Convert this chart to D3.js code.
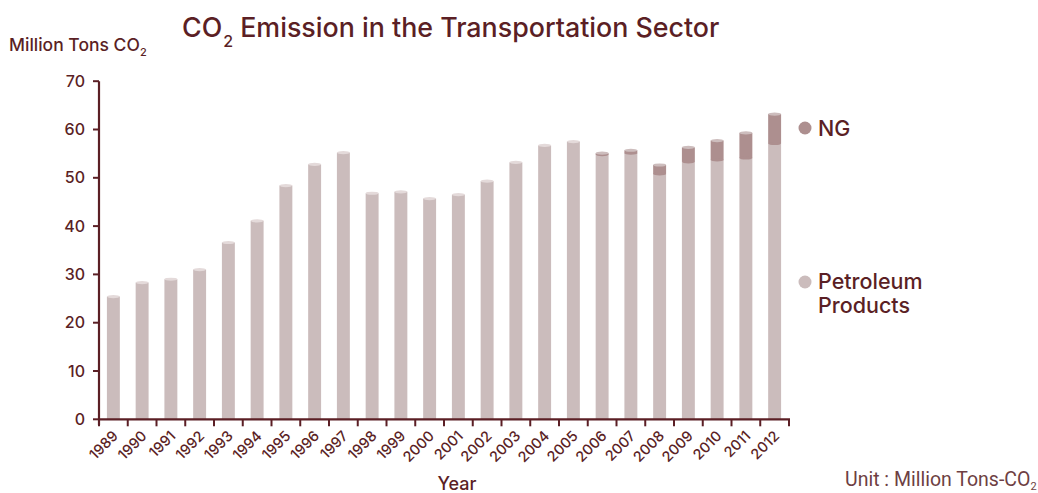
<!DOCTYPE html>
<html>
<head>
<meta charset="utf-8">
<script src="https://cdn.jsdelivr.net/npm/d3@7"></script>
<style>
  html, body { margin: 0; padding: 0; background: #fff; }
  svg { display: block; }
  text { font-family: Inter, Roboto, "Noto Sans", sans-serif; }
</style>
</head>
<body>
<svg id="chart" width="1038" height="493"></svg>
<script>
// CO2 emission in the transportation sector (million tons CO2)
const years = [1989, 1990, 1991, 1992, 1993, 1994, 1995, 1996, 1997, 1998, 1999, 2000,
               2001, 2002, 2003, 2004, 2005, 2006, 2007, 2008, 2009, 2010, 2011, 2012];
const petroleum = [25.4, 28.3, 29.0, 31.0, 36.6, 41.1, 48.4, 52.8, 55.2, 46.8, 47.1, 45.7,
                   46.5, 49.3, 53.2, 56.7, 57.5, 54.8, 55.1, 50.8, 53.3, 53.7, 54.1, 57.1];
const ng = [0, 0, 0, 0, 0, 0, 0, 0, 0, 0, 0, 0,
            0, 0, 0, 0, 0, 0.3, 0.6, 1.85, 3.0, 4.0, 5.2, 6.1];
const yTicks = [0, 10, 20, 30, 40, 50, 60, 70];
const seriesNames = ["NG", "Petroleum Products"];

const ink = "#5b1f25";
const colPetro = "#cbbcbc";
const colPetroCap = "#e4dada";
const colNG = "#ad8f8f";
const colNGCap = "#cdbdbd";

const svg = d3.select("#chart");

const x = d3.scaleBand().domain(years).range([99, 789]).paddingInner(0.55).paddingOuter(0.275);
const y = d3.scaleLinear().domain([0, 70]).range([419.3, 81.2]);
const step = x.step();
const bw = x.bandwidth();

const rows = years.map((yr, i) => ({ year: yr, p: petroleum[i], n: ng[i] }));

// bars
const g = svg.append("g");
rows.forEach(d => {
  const x0 = x(d.year);
  const cx = x0 + bw / 2;
  // petroleum segment
  g.append("rect").attr("x", x0).attr("y", y(d.p)).attr("width", bw)
    .attr("height", y(0) - y(d.p)).attr("fill", colPetro);
  if (d.n > 0) {
    const top = d.p + d.n;
    g.append("rect").attr("x", x0).attr("y", y(top)).attr("width", bw)
      .attr("height", y(d.p) - y(top)).attr("fill", colNG);
    g.append("ellipse").attr("cx", cx).attr("cy", y(d.p)).attr("rx", bw / 2).attr("ry", 1.6)
      .attr("fill", colNG);
    g.append("ellipse").attr("cx", cx).attr("cy", y(top)).attr("rx", bw / 2).attr("ry", 1.6)
      .attr("fill", colNGCap);
  } else {
    g.append("ellipse").attr("cx", cx).attr("cy", y(d.p)).attr("rx", bw / 2).attr("ry", 1.6)
      .attr("fill", colPetroCap);
  }
});

// y axis
const yAxis = svg.append("g");
yAxis.append("line").attr("x1", 99).attr("x2", 99).attr("y1", y(70)).attr("y2", y(0) + 6)
  .attr("stroke", ink).attr("stroke-width", 2.2);
yTicks.forEach(t => {
  yAxis.append("line").attr("x1", 93).attr("x2", 99).attr("y1", y(t)).attr("y2", y(t))
    .attr("stroke", ink).attr("stroke-width", 2);
  yAxis.append("text").attr("x", 85).attr("y", y(t)).attr("dy", "0.35em")
    .attr("text-anchor", "end").attr("fill", ink)
    .style("font-size", "16px").style("font-weight", 500).text(t);
});

// x axis
const xAxis = svg.append("g");
xAxis.append("line").attr("x1", 98).attr("x2", 790).attr("y1", y(0)).attr("y2", y(0))
  .attr("stroke", ink).attr("stroke-width", 2.2);
const bounds = years.map(yr => x(yr) + bw / 2 - step / 2).concat([x(years[years.length - 1]) + bw / 2 + step / 2]);
bounds.forEach(bx => {
  xAxis.append("line").attr("x1", bx).attr("x2", bx).attr("y1", y(0)).attr("y2", y(0) + 7)
    .attr("stroke", ink).attr("stroke-width", 2);
});
years.forEach(yr => {
  const cx = x(yr) + bw / 2 + 2;
  xAxis.append("text")
    .attr("transform", `translate(${cx},${y(0) + 14}) rotate(-45)`)
    .attr("text-anchor", "end").attr("dy", "0.35em").attr("fill", ink)
    .style("font-size", "14.5px").style("font-weight", 500).text(yr);
});

// axis titles
svg.append("text").attr("x", 457).attr("y", 490).attr("text-anchor", "middle").attr("fill", ink)
  .style("font-size", "18px").style("font-weight", 500).text("Year");

const yTitle = svg.append("text").attr("x", 9).attr("y", 51).attr("fill", ink)
  .style("font-size", "17.5px").style("font-weight", 500);
yTitle.append("tspan").text("Million Tons CO");
yTitle.append("tspan").attr("dy", 5).style("font-size", "11px").text("2");

// chart title
const title = svg.append("text").attr("x", 182).attr("y", 37).attr("fill", ink)
  .style("font-size", "26.8px").style("font-weight", 500);
title.append("tspan").text("CO");
title.append("tspan").attr("dy", 10).attr("dx", 1).style("font-size", "16px").text("2");
title.append("tspan").attr("dy", -10).text(" Emission in the Transportation Sector");

// legend
const legend = svg.append("g");
legend.append("circle").attr("cx", 805).attr("cy", 128).attr("r", 6.5).attr("fill", colNG);
legend.append("text").attr("x", 818).attr("y", 128).attr("dy", "0.35em").attr("fill", ink)
  .style("font-size", "21.5px").style("font-weight", 500).text(seriesNames[0]);
legend.append("circle").attr("cx", 805).attr("cy", 282).attr("r", 6.5).attr("fill", colPetro);
const pLabel = legend.append("text").attr("x", 818).attr("y", 289).attr("fill", ink)
  .style("font-size", "21.5px").style("font-weight", 500);
pLabel.append("tspan").attr("x", 818).text(seriesNames[1].split(" ")[0]);
pLabel.append("tspan").attr("x", 818).attr("dy", 24).text(seriesNames[1].split(" ")[1]);

// unit note
const unit = svg.append("text").attr("x", 845).attr("y", 486).attr("fill", "#6e3f43")
  .style("font-family", "Roboto, sans-serif")
  .style("font-size", "19.5px").style("font-weight", 400);
unit.append("tspan").text("Unit : Million Tons-CO");
unit.append("tspan").attr("dy", 4).style("font-size", "11px").text("2");
</script>
</body>
</html>
